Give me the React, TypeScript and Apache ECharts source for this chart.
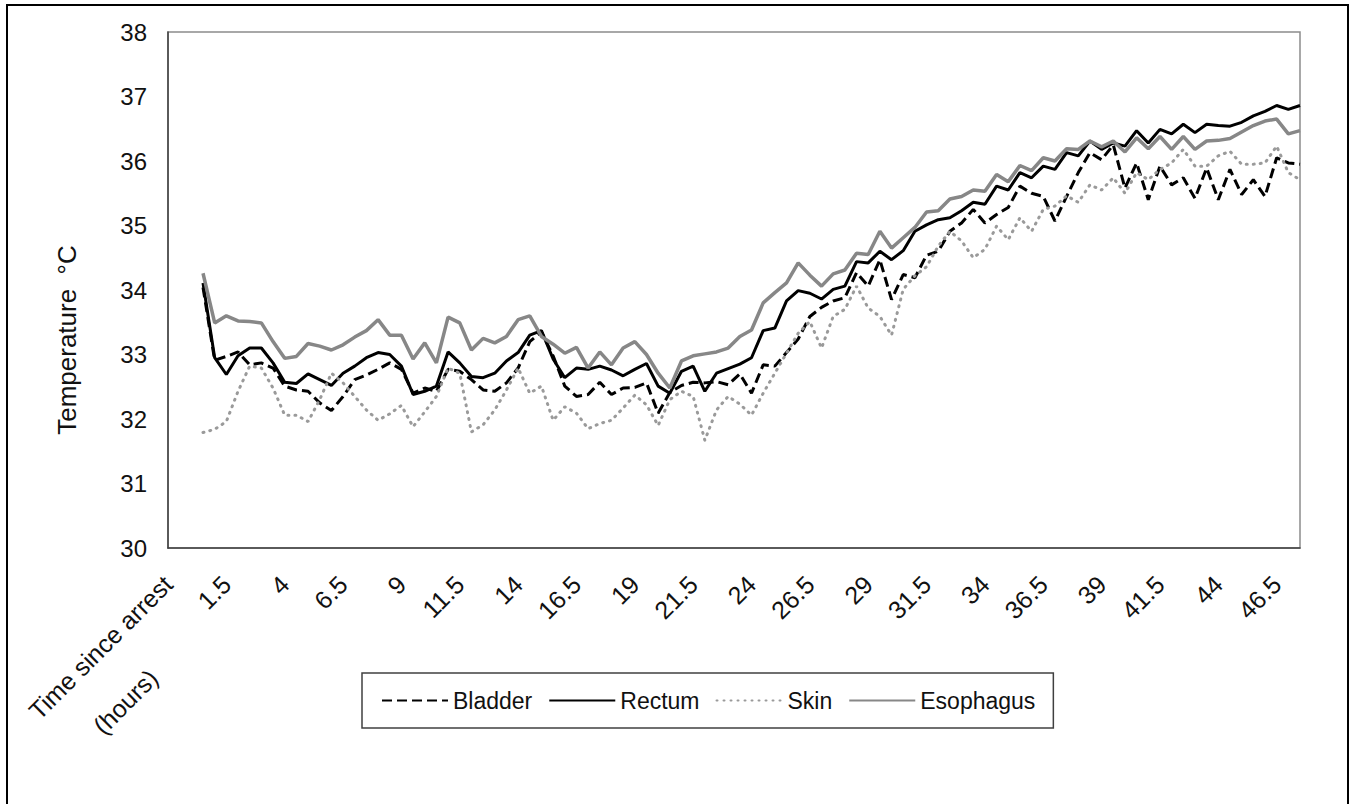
import React, { useEffect, useRef } from "react";
import * as echarts from "echarts";

const HEADER = "Time since arrest (hours)";
const TIMES = [
  "", "", "0.5", "1", "1.5", "2", "2.5", "3", "3.5", "4", "4.5", "5", "5.5", "6", "6.5", "7", "7.5", "8", "8.5", "9", "9.5", "10",
  "10.5", "11", "11.5", "12", "12.5", "13", "13.5", "14", "14.5", "15", "15.5", "16", "16.5", "17", "17.5", "18", "18.5", "19",
  "19.5", "20", "20.5", "21", "21.5", "22", "22.5", "23", "23.5", "24", "24.5", "25", "25.5", "26", "26.5", "27", "27.5", "28",
  "28.5", "29", "29.5", "30", "30.5", "31", "31.5", "32", "32.5", "33", "33.5", "34", "34.5", "35", "35.5", "36", "36.5", "37",
  "37.5", "38", "38.5", "39", "39.5", "40", "40.5", "41", "41.5", "42", "42.5", "43", "43.5", "44", "44.5", "45", "45.5", "46",
  "46.5", "47", "47.5",
];
const CATEGORIES = [HEADER, ...TIMES];
const LEAD = [null, null, null];

const BLADDER = [
  34.04, 32.91, 32.97, 33.04, 32.84, 32.87, 32.79, 32.51, 32.45, 32.43,
  32.25, 32.13, 32.35, 32.61, 32.68, 32.77, 32.87, 32.77, 32.40, 32.48,
  32.43, 32.77, 32.74, 32.61, 32.45, 32.43, 32.56, 32.79, 33.20, 33.35,
  32.98, 32.51, 32.35, 32.38, 32.57, 32.38, 32.48, 32.49, 32.56, 32.09,
  32.41, 32.52, 32.57, 32.56, 32.58, 32.53, 32.70, 32.40, 32.84, 32.82,
  33.03, 33.24, 33.59, 33.73, 33.83, 33.88, 34.27, 34.06, 34.47, 33.85,
  34.24, 34.19, 34.54, 34.60, 34.91, 35.04, 35.25, 35.04, 35.17, 35.28,
  35.61, 35.50, 35.45, 35.07, 35.45, 35.82, 36.13, 36.02, 36.25, 35.58,
  35.97, 35.40, 35.92, 35.63, 35.74, 35.42, 35.89, 35.40, 35.87, 35.48,
  35.71, 35.45, 36.05, 35.97, 35.95,
];
const RECTUM = [
  34.11, 32.95, 32.69, 32.98, 33.10, 33.10, 32.87, 32.57, 32.55, 32.70,
  32.61, 32.52, 32.71, 32.82, 32.95, 33.03, 33.00, 32.82, 32.38, 32.43,
  32.51, 33.04, 32.87, 32.66, 32.64, 32.71, 32.90, 33.03, 33.30, 33.37,
  32.93, 32.64, 32.79, 32.77, 32.82, 32.76, 32.67, 32.77, 32.86, 32.51,
  32.40, 32.74, 32.82, 32.43, 32.71, 32.78, 32.85, 32.95, 33.37, 33.41,
  33.83, 33.99, 33.95, 33.86, 34.01, 34.06, 34.44, 34.42, 34.60, 34.47,
  34.61, 34.91, 35.01, 35.09, 35.12, 35.23, 35.36, 35.33, 35.61, 35.55,
  35.82, 35.74, 35.92, 35.87, 36.13, 36.08, 36.31, 36.18, 36.28, 36.23,
  36.47, 36.28, 36.49, 36.42, 36.57, 36.44, 36.57, 36.55, 36.54, 36.60,
  36.70, 36.77, 36.86, 36.80, 36.86,
];
const SKIN = [
  31.79, 31.84, 31.96, 32.43, 32.82, 32.79, 32.48, 32.06, 32.06, 31.96,
  32.30, 32.71, 32.56, 32.35, 32.14, 31.98, 32.08, 32.21, 31.88, 32.11,
  32.35, 32.79, 32.71, 31.80, 31.91, 32.14, 32.45, 32.79, 32.40, 32.51,
  31.98, 32.19, 32.09, 31.85, 31.93, 31.98, 32.17, 32.37, 32.22, 31.90,
  32.30, 32.43, 32.35, 31.67, 32.14, 32.35, 32.23, 32.06, 32.40, 32.71,
  33.02, 33.33, 33.51, 33.10, 33.59, 33.70, 34.06, 33.72, 33.59, 33.30,
  34.01, 34.22, 34.36, 34.68, 34.91, 34.76, 34.50, 34.63, 34.99, 34.78,
  35.12, 34.91, 35.25, 35.30, 35.46, 35.36, 35.63, 35.55, 35.74, 35.50,
  35.82, 35.71, 35.87, 35.97, 36.18, 35.92, 35.92, 36.08, 36.15, 35.95,
  35.95, 35.97, 36.23, 35.82, 35.71,
];
const ESOPHAGUS = [
  34.26, 33.49, 33.60, 33.52, 33.51, 33.49, 33.20, 32.94, 32.97, 33.17,
  33.13, 33.07, 33.15, 33.27, 33.37, 33.54, 33.30, 33.30, 32.93, 33.18,
  32.87, 33.58, 33.49, 33.07, 33.25, 33.18, 33.28, 33.54, 33.60, 33.28,
  33.16, 33.02, 33.11, 32.79, 33.04, 32.84, 33.10, 33.20, 33.00, 32.71,
  32.48, 32.90, 32.98, 33.01, 33.04, 33.10, 33.28, 33.38, 33.80, 33.96,
  34.11, 34.42, 34.23, 34.06, 34.25, 34.31, 34.57, 34.55, 34.91, 34.65,
  34.81, 34.97, 35.21, 35.23, 35.41, 35.45, 35.55, 35.53, 35.79, 35.68,
  35.93, 35.85, 36.05, 36.00, 36.19, 36.18, 36.31, 36.22, 36.31, 36.14,
  36.36, 36.19, 36.38, 36.18, 36.38, 36.18, 36.31, 36.32, 36.35, 36.45,
  36.55, 36.62, 36.65, 36.42, 36.47,
];

const FONT = "'Liberation Sans', Arial, sans-serif";
const TXT = "#111111";

export default function App() {
  const ref = useRef<HTMLDivElement>(null);
  useEffect(() => {
    if (!ref.current) return;
    const chart = echarts.init(ref.current, null, { renderer: "svg" });
    const mk = (name: string, data: number[], lineStyle: any) => ({
      name,
      type: "line",
      data: [...LEAD, ...data],
      showSymbol: false,
      symbol: "none",
      connectNulls: false,
      lineStyle,
      itemStyle: { color: lineStyle.color },
    });
    chart.setOption({
      animation: false,
      backgroundColor: "#ffffff",
      graphic: [
        {
          type: "rect",
          shape: { x: 7, y: 5, width: 1341, height: 820 },
          style: { fill: "none", stroke: "#000", lineWidth: 2 },
          silent: true,
        },
      ],
      grid: {
        left: 168,
        right: 55,
        top: 32,
        bottom: 256,
        containLabel: false,
        outerBoundsMode: "none",
        show: true,
        borderColor: "#8c8c8c",
        borderWidth: 1.5,
        backgroundColor: "transparent",
      },
      legend: {
        left: 362,
        top: 673,
        orient: "horizontal",
        data: ["Bladder", "Rectum", "Skin", "Esophagus"],
        borderColor: "#404040",
        borderWidth: 1.5,
        padding: [16, 18, 16, 19],
        itemGap: 16,
        itemWidth: 66,
        itemHeight: 14,
        itemStyle: { opacity: 0 },
        textStyle: { fontFamily: FONT, fontSize: 23, color: TXT },
      },
      xAxis: {
        type: "category",
        data: CATEGORIES,
        boundaryGap: false,
        axisLine: { show: true, lineStyle: { color: "#404040", width: 1.5 } },
        axisTick: { show: false },
        splitLine: { show: false },
        axisLabel: {
          interval: 4,
          rotate: 45,
          margin: 32,
          fontFamily: FONT,
          fontSize: 25,
          color: TXT,
          formatter: (v: string, i: number) =>
            i === 0 ? "{s| }\n{t|Time since arrest}\n{h|(hours)}" : v,
          rich: {
            s: { lineHeight: 86, fontSize: 25 },
            t: { lineHeight: 26, fontSize: 25, fontFamily: FONT, color: TXT },
            h: {
              lineHeight: 86,
              fontSize: 25,
              fontFamily: FONT,
              color: TXT,
              align: "left",
              padding: [0, 0, 0, 35],
            },
          },
        },
      },
      yAxis: {
        type: "value",
        min: 30,
        max: 38,
        interval: 1,
        name: "Temperature  °C",
        nameLocation: "middle",
        nameRotate: 90,
        nameGap: 88,
        nameTextStyle: {
          fontFamily: FONT,
          fontSize: 26,
          color: TXT,
          padding: [0, 100, 0, 0],
        },
        axisLine: { show: true, lineStyle: { color: "#404040", width: 1.5 } },
        axisTick: { show: false },
        splitLine: { show: false },
        axisLabel: { margin: 21, fontFamily: FONT, fontSize: 24, color: TXT },
      },
      series: [
        mk("Bladder", BLADDER, { color: "#000", width: 3, type: [10, 5] }),
        mk("Rectum", RECTUM, { color: "#000", width: 3 }),
        mk("Skin", SKIN, { color: "#9a9a9a", width: 3, type: [1, 6], cap: "round" }),
        mk("Esophagus", ESOPHAGUS, { color: "#878787", width: 3.5 }),
      ],
    });
    return () => chart.dispose();
  }, []);
  return (
    <div
      ref={ref}
      style={{ position: "absolute", left: 0, top: 0, width: 1355, height: 804 }}
    />
  );
}
